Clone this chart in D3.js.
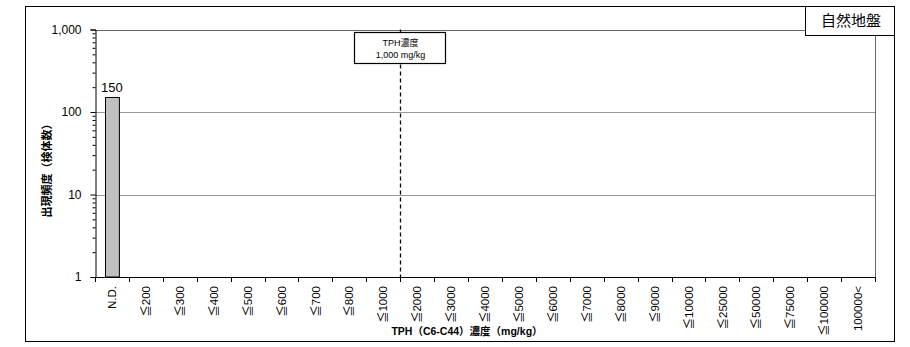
<!DOCTYPE html>
<html>
<head>
<meta charset="utf-8">
<script src="https://cdn.jsdelivr.net/npm/d3@7"></script>
<style>
  html, body { margin: 0; padding: 0; background: #fff; }
  svg { display: block; }
  text { font-family: "Liberation Sans", Arial, "Noto Sans CJK JP", sans-serif; }
  .cjk { font-family: "Liberation Sans", "Noto Sans CJK JP", sans-serif; }
</style>
</head>
<body>
<svg id="chart" width="910" height="347"></svg>
<script>
// Concentration classes (mg/kg) and sample counts per class
const categories = ["N.D.", "≦200", "≦300", "≦400", "≦500", "≦600", "≦700", "≦800", "≦1000",
  "≦2000", "≦3000", "≦4000", "≦5000", "≦6000", "≦7000", "≦8000", "≦9000",
  "≦10000", "≦25000", "≦50000", "≦75000", "≦100000", "100000<"];
const counts = [150, 0, 0, 0, 0, 0, 0, 0, 0, 0, 0, 0, 0, 0, 0, 0, 0, 0, 0, 0, 0, 0, 0];
const yTickValues = [1, 10, 100, 1000];
const thresholdAfter = "≦1000";
const thresholdLines = ["TPH濃度", "1,000 mg/kg"];
const panelLabel = "自然地盤";
const yTitle = "出現頻度（検体数）";
const xTitle = "TPH（C6-C44）濃度（mg/kg）";

const svg = d3.select("#chart");
const plot = { left: 95, right: 875, top: 29.5, bottom: 277 };

// Outer frame
svg.append("rect")
  .attr("x", 25.5).attr("y", 6.5).attr("width", 869).attr("height", 335)
  .attr("fill", "#fff").attr("stroke", "#000").attr("stroke-width", 1);

const x = d3.scaleBand()
  .domain(categories)
  .range([plot.left, plot.right])
  .paddingInner(0.59)
  .paddingOuter(0.295);

const y = d3.scaleLog()
  .domain([1, 1000])
  .range([plot.bottom, plot.top]);

// Gridlines at the intermediate decades
svg.append("g")
  .selectAll("line")
  .data(yTickValues.filter(v => v > 1 && v < 1000))
  .join("line")
  .attr("x1", plot.left).attr("x2", plot.right)
  .attr("y1", d => Math.round(y(d)) + 0.5).attr("y2", d => Math.round(y(d)) + 0.5)
  .attr("stroke", "#999").attr("stroke-width", 1);

// Plot top and right borders
svg.append("path")
  .attr("d", `M${plot.left},${Math.round(y(1000)) + 0.5}H${plot.right + 0.5}V${plot.bottom}`)
  .attr("fill", "none").attr("stroke", "#666").attr("stroke-width", 1);

// Threshold line between ≦1000 and ≦2000
const step = x.step();
const idx = categories.indexOf(thresholdAfter);
const xThr = Math.round(plot.left + (idx + 1) * step) + 0.5;
svg.append("line")
  .attr("x1", xThr).attr("x2", xThr)
  .attr("y1", y(1000)).attr("y2", plot.bottom)
  .attr("stroke", "#000").attr("stroke-width", 1.3)
  .attr("stroke-dasharray", "4,3");

// Bars
svg.append("g")
  .selectAll("rect")
  .data(categories.map((c, i) => ({ c, v: counts[i] })).filter(d => d.v > 0))
  .join("rect")
  .attr("x", d => Math.round(x(d.c)) + 0.5)
  .attr("y", d => y(d.v))
  .attr("width", x.bandwidth())
  .attr("height", d => plot.bottom - y(d.v))
  .attr("fill", "#c0c0c0").attr("stroke", "#000").attr("stroke-width", 1);

// Value labels
svg.append("g")
  .selectAll("text")
  .data(categories.map((c, i) => ({ c, v: counts[i] })).filter(d => d.v > 0))
  .join("text")
  .attr("x", d => x(d.c) + x.bandwidth() / 2)
  .attr("y", d => y(d.v) - 5)
  .attr("text-anchor", "middle")
  .attr("font-size", 13)
  .text(d => d3.format(",")(d.v));

// Y axis: major ticks with labels
const yAxis = svg.append("g")
  .attr("transform", `translate(${plot.left + 0.5},0)`)
  .call(d3.axisLeft(y).tickValues(yTickValues).tickFormat(d3.format(",")).tickSize(5).tickPadding(9));
yAxis.select(".domain").attr("stroke", "#000");
yAxis.selectAll("text").attr("font-size", 12).attr("fill", "#000")
  .attr("font-family", "'Liberation Sans', Arial, sans-serif");

// Y axis: minor ticks
const minor = [];
[1, 10, 100].forEach(dec => { for (let k = 2; k <= 9; k++) minor.push(dec * k); });
svg.append("g")
  .attr("transform", `translate(${plot.left + 0.5},0)`)
  .call(d3.axisLeft(y).tickValues(minor).tickFormat("").tickSize(3))
  .call(g => g.select(".domain").remove());

// X axis line and boundary ticks
svg.append("line")
  .attr("x1", plot.left).attr("x2", plot.right + 1)
  .attr("y1", plot.bottom + 0.5).attr("y2", plot.bottom + 0.5)
  .attr("stroke", "#000");
svg.append("g")
  .selectAll("line")
  .data(d3.range(categories.length + 1))
  .join("line")
  .attr("x1", i => Math.round(plot.left + i * step) + 0.5)
  .attr("x2", i => Math.round(plot.left + i * step) + 0.5)
  .attr("y1", plot.bottom).attr("y2", plot.bottom + 5)
  .attr("stroke", "#000");

// Rotated category labels
svg.append("g")
  .selectAll("text")
  .data(categories)
  .join("text")
  .attr("class", "cjk")
  .attr("transform", d => `translate(${x(d) + x.bandwidth() / 2},286) rotate(-90)`)
  .attr("text-anchor", "end")
  .attr("dy", "0.36em")
  .attr("font-size", 11.5)
  .text(d => d);

// Threshold annotation box
const box = { w: 91, h: 31, top: 32 };
svg.append("rect")
  .attr("x", xThr - 46).attr("y", box.top + 0.5)
  .attr("width", box.w).attr("height", box.h)
  .attr("fill", "#fff").attr("stroke", "#000").attr("stroke-width", 1.2);
svg.append("g")
  .selectAll("text")
  .data(thresholdLines)
  .join("text")
  .attr("class", "cjk")
  .attr("x", xThr)
  .attr("y", (d, i) => 46 + i * 12)
  .attr("text-anchor", "middle")
  .attr("font-size", 9)
  .text(d => d);

// Panel label
svg.append("rect")
  .attr("x", 805.5).attr("y", 6.5).attr("width", 89).attr("height", 29)
  .attr("fill", "#fff").attr("stroke", "#000").attr("stroke-width", 1);
svg.append("text")
  .attr("class", "cjk")
  .attr("x", 851).attr("y", 25.5)
  .attr("text-anchor", "middle")
  .attr("font-size", 15)
  .text(panelLabel);

// Axis titles
svg.append("text")
  .attr("class", "cjk")
  .attr("transform", "translate(51,168) rotate(-90)")
  .attr("text-anchor", "middle")
  .attr("font-size", 11).attr("font-weight", "bold")
  .text(yTitle);
svg.append("text")
  .attr("class", "cjk")
  .attr("x", 467).attr("y", 335)
  .attr("text-anchor", "middle")
  .attr("font-size", 10.5).attr("font-weight", "bold")
  .text(xTitle);
</script>
</body>
</html>
